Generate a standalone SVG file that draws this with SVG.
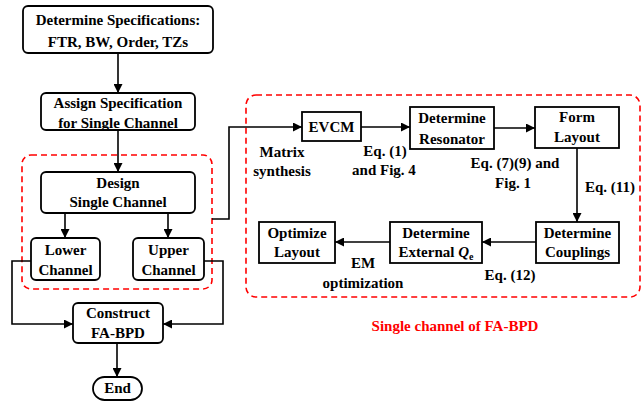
<svg xmlns="http://www.w3.org/2000/svg" width="641" height="402" viewBox="0 0 641 402">
<defs>
<marker id="ah" viewBox="0 0 10 10" refX="10" refY="5" markerWidth="9" markerHeight="9" markerUnits="userSpaceOnUse" orient="auto">
<path d="M0,0 L10,5 L0,10 z" fill="#000"/>
</marker>
</defs>
<style>
text{font-family:"Liberation Serif","Times New Roman",serif;font-weight:bold;font-size:15px;fill:#000;text-anchor:middle}
.rb{fill:#fff;stroke:#000;stroke-width:1.8}
.sb{fill:#fff;stroke:#000;stroke-width:1.8}
.dash{fill:none;stroke:#f00;stroke-width:1.6;stroke-dasharray:6,4}
.ln{fill:none;stroke:#000;stroke-width:1.6}
.red{fill:#f00}
</style>
<rect class="dash" x="22" y="155" width="190" height="134" rx="9"/>
<rect class="dash" x="246" y="95" width="394" height="202" rx="10"/>
<g id="connectors">
<path class="ln" d="M118,53 V93" marker-end="url(#ah)"/>
<path class="ln" d="M118,130 V172" marker-end="url(#ah)"/>
<path class="ln" d="M65,213 V238" marker-end="url(#ah)"/>
<path class="ln" d="M168,213 V238" marker-end="url(#ah)"/>
<path class="ln" d="M31,261 H12 V324 H73" marker-end="url(#ah)"/>
<path class="ln" d="M204,261 H223 V324 H163" marker-end="url(#ah)"/>
<path class="ln" d="M117,343 V377" marker-end="url(#ah)"/>
<path class="ln" d="M212,219 H229 V127 H302" marker-end="url(#ah)"/>
<path class="ln" d="M361,127 H410" marker-end="url(#ah)"/>
<path class="ln" d="M494,128 H535" marker-end="url(#ah)"/>
<path class="ln" d="M577,148 V222" marker-end="url(#ah)"/>
<path class="ln" d="M536,242 H482" marker-end="url(#ah)"/>
<path class="ln" d="M390,242 H335" marker-end="url(#ah)"/>
</g>
<g id="spec"><rect class="rb" x="23" y="6" width="190" height="47" rx="5"/><text x="118" y="25">Determine Specifications:</text><text x="118" y="47">FTR, BW, Order, TZs</text></g>
<g id="assign"><rect class="rb" x="41" y="93" width="154" height="37" rx="5"/><text x="118" y="108">Assign Specification</text><text x="118" y="128">for Single Channel</text></g>
<g id="design"><rect class="rb" x="41" y="172" width="154" height="41" rx="5"/><text x="118" y="188">Design</text><text x="118" y="207">Single Channel</text></g>
<g id="lower"><rect class="rb" x="31" y="238" width="69" height="42" rx="5"/><text x="65.5" y="255">Lower</text><text x="65.5" y="275">Channel</text></g>
<g id="upper"><rect class="rb" x="133" y="238" width="71" height="42" rx="5"/><text x="168.5" y="255">Upper</text><text x="168.5" y="275">Channel</text></g>
<g id="construct"><rect class="rb" x="73" y="303" width="90" height="40" rx="5"/><text x="118" y="318">Construct</text><text x="118" y="338">FA-BPD</text></g>
<g id="end"><rect class="rb" x="93" y="377" width="49" height="23" rx="11.5"/><text x="117.5" y="393">End</text></g>
<g id="evcm"><rect class="sb" x="302" y="112" width="59" height="29"/><text x="331.5" y="132">EVCM</text></g>
<g id="resonator"><rect class="sb" x="410" y="107" width="84" height="42"/><text x="452" y="123">Determine</text><text x="452" y="144">Resonator</text></g>
<g id="form"><rect class="sb" x="535" y="107" width="84" height="41"/><text x="577" y="122">Form</text><text x="577" y="142">Layout</text></g>
<g id="couplings"><rect class="sb" x="536" y="222" width="83" height="41"/><text x="577.5" y="238">Determine</text><text x="577.5" y="257">Couplings</text></g>
<g id="external"><rect class="sb" x="390" y="222" width="92" height="41"/><text x="436" y="238">Determine</text><text x="436" y="257">External <tspan font-style="italic">Q</tspan><tspan font-size="10" dy="3">e</tspan></text></g>
<g id="optimize"><rect class="sb" x="259" y="222" width="76" height="41"/><text x="297" y="238">Optimize</text><text x="297" y="257">Layout</text></g>
<g id="labels">
<text x="282" y="157">Matrix</text>
<text x="282" y="176">synthesis</text>
<text x="385" y="156">Eq. (1)</text>
<text x="384" y="175">and Fig. 4</text>
<text x="515" y="168">Eq. (7)(9) and</text>
<text x="513" y="188">Fig. 1</text>
<text x="610" y="192">Eq. (11)</text>
<text x="510" y="280">Eq. (12)</text>
<text x="363" y="268">EM</text>
<text x="363" y="288">optimization</text>
<text class="red" x="455" y="331">Single channel of FA-BPD</text>
</g>
</svg>
